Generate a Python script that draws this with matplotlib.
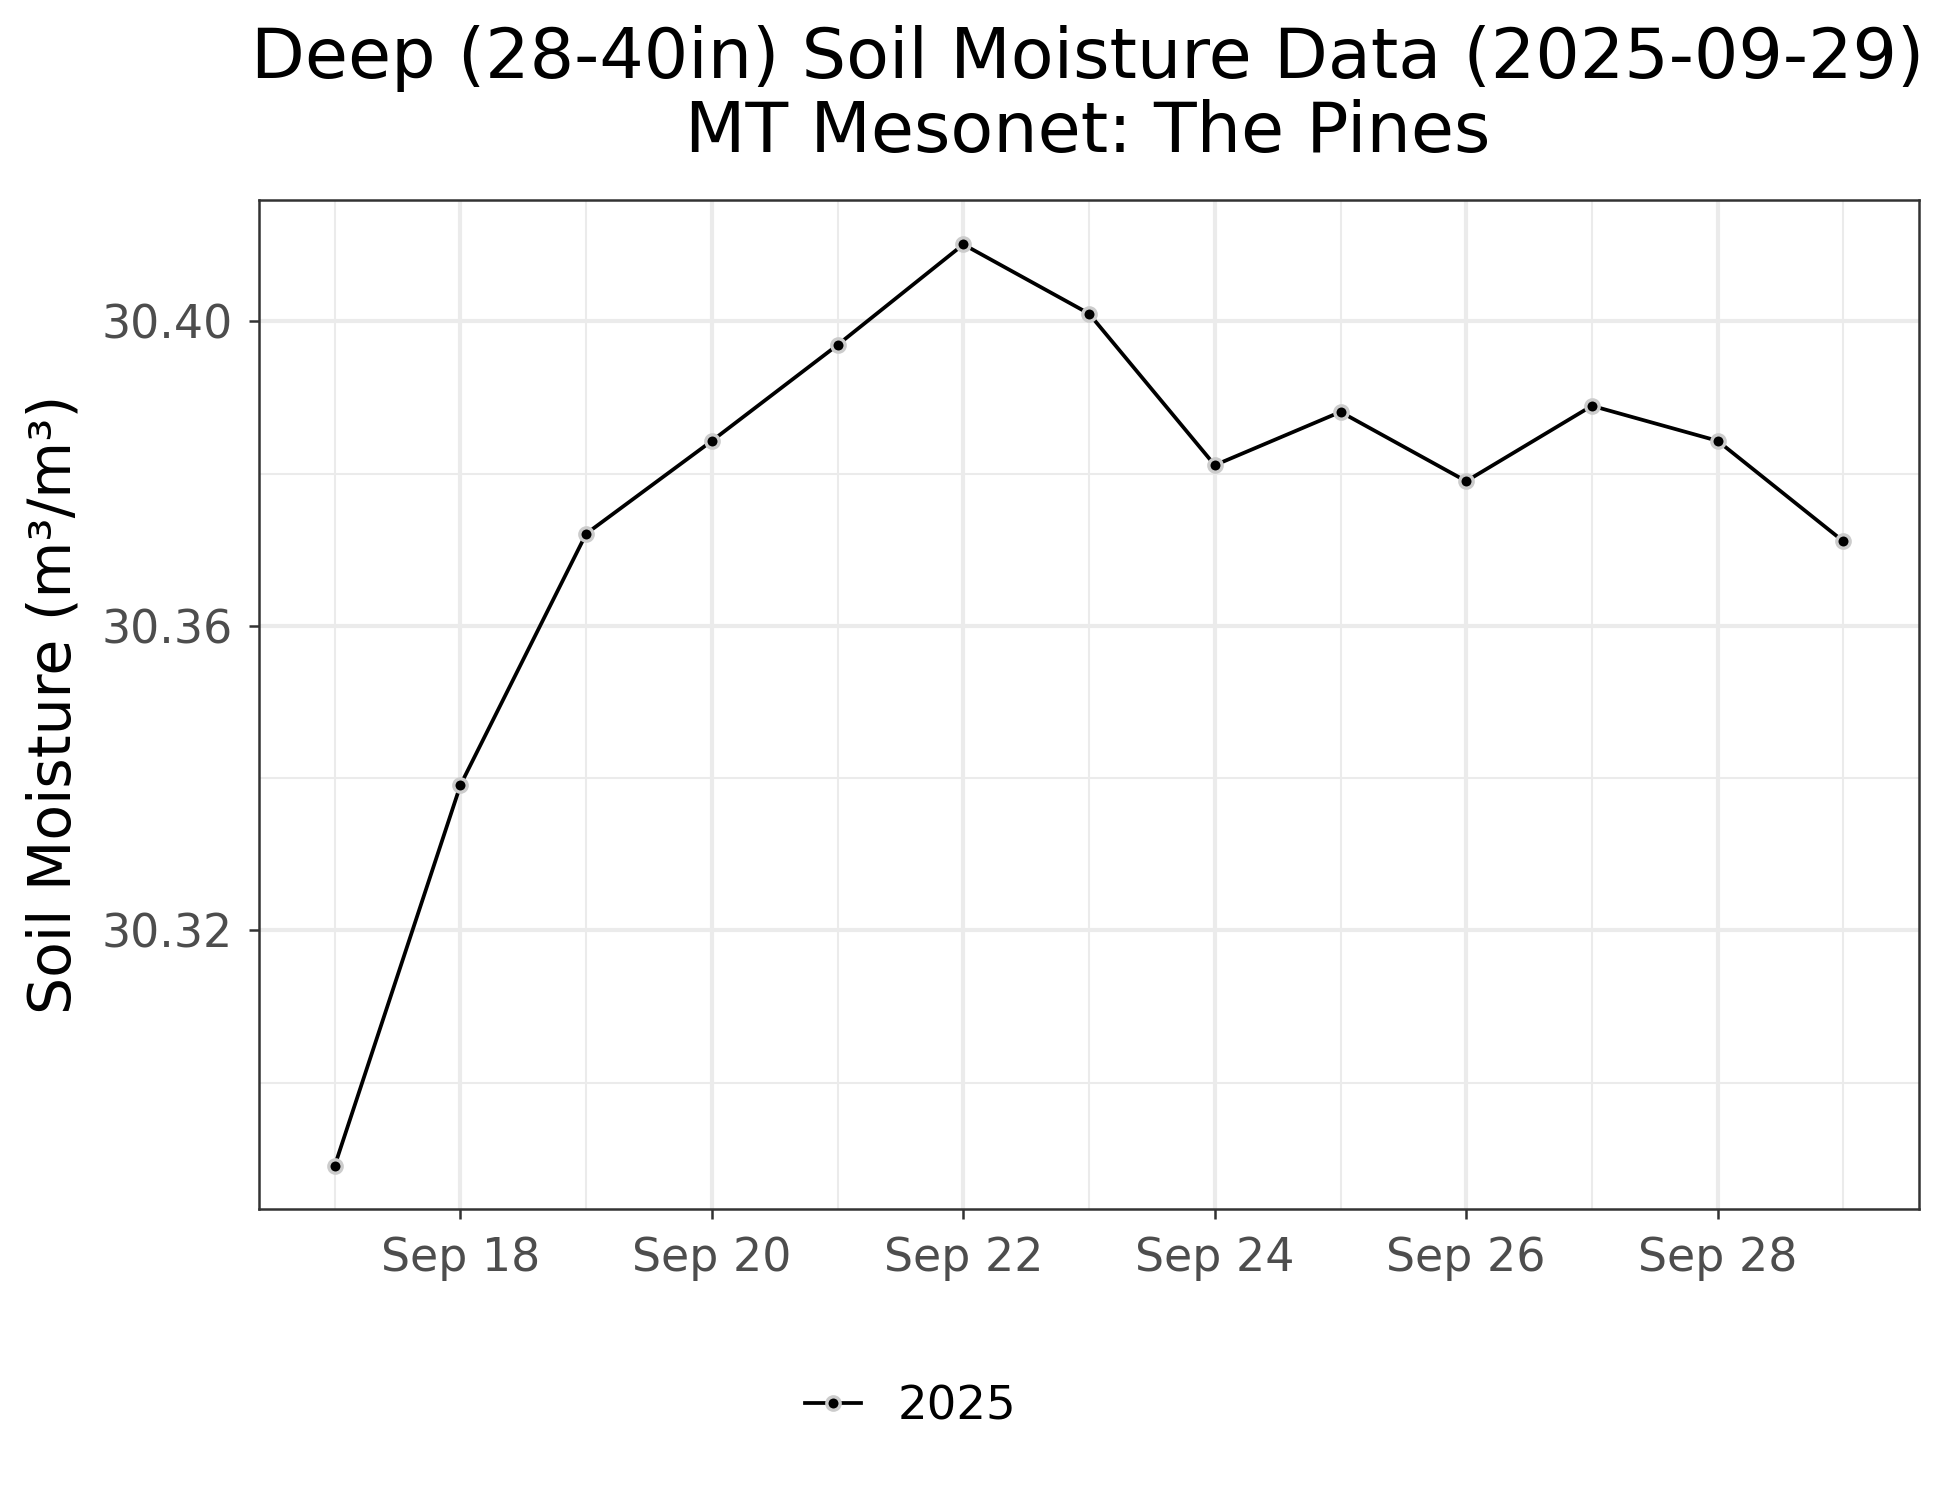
import matplotlib
matplotlib.use("Agg")
import matplotlib.pyplot as plt
import matplotlib.dates as mdates
import numpy as np
import pandas as pd

# daily deep soil moisture, The Pines
dates = pd.date_range("2025-09-17", "2025-09-29", freq="D")
moisture = [30.2891, 30.3391, 30.3721, 30.3843, 30.3969, 30.4101, 30.4010,
            30.3811, 30.3881, 30.3790, 30.3889, 30.3843, 30.3711]
series_label = "2025"

plt.rcParams['font.family'] = ['DejaVu Sans']

fig = plt.figure(figsize=(6.5, 5), dpi=300)
ax = fig.add_axes([0.133, 0.194, 0.851, 0.673])

ax.plot(dates, moisture, color='black', lw=0.9, marker='o', markersize=3.2,
        markerfacecolor='black', markeredgecolor='#cccccc', markeredgewidth=0.8,
        label=series_label, zorder=3)

ax.set_xlim(dates[0] - pd.Timedelta(days=0.6), dates[-1] + pd.Timedelta(days=0.6))
ax.set_ylim(30.2834, 30.416)

ax.xaxis.set_major_locator(mdates.DayLocator(bymonthday=range(2, 32, 2)))
ax.xaxis.set_minor_locator(mdates.DayLocator(bymonthday=range(1, 32, 2)))
ax.xaxis.set_major_formatter(mdates.DateFormatter('%b %d'))
ax.set_yticks([30.32, 30.36, 30.40])
ax.set_yticks([30.30, 30.34, 30.38], minor=True)
ax.yaxis.set_major_formatter(matplotlib.ticker.FormatStrFormatter('%.2f'))

ax.grid(which='major', color='#ebebeb', lw=1.0)
ax.grid(which='minor', color='#ebebeb', lw=0.5)
ax.set_axisbelow(True)
for s in ax.spines.values():
    s.set_color('#333333')
    s.set_linewidth(0.6)
ax.tick_params(which='major', length=2.5, width=0.6, color='#333333',
               labelsize=11, labelcolor='#4d4d4d', pad=4)
ax.tick_params(which='minor', length=0)

ax.set_ylabel('Soil Moisture (m³/m³)', fontsize=14, labelpad=4.5)
fig.suptitle('Deep (28-40in) Soil Moisture Data (2025-09-29)\nMT Mesonet: The Pines',
             fontsize=16.8, x=0.558, y=0.983, linespacing=1.12)

fig.legend(loc='center', bbox_to_anchor=(0.467, 0.062), frameon=False,
           fontsize=11.2, handlelength=1.2)

fig.savefig('out.png', dpi=300)
